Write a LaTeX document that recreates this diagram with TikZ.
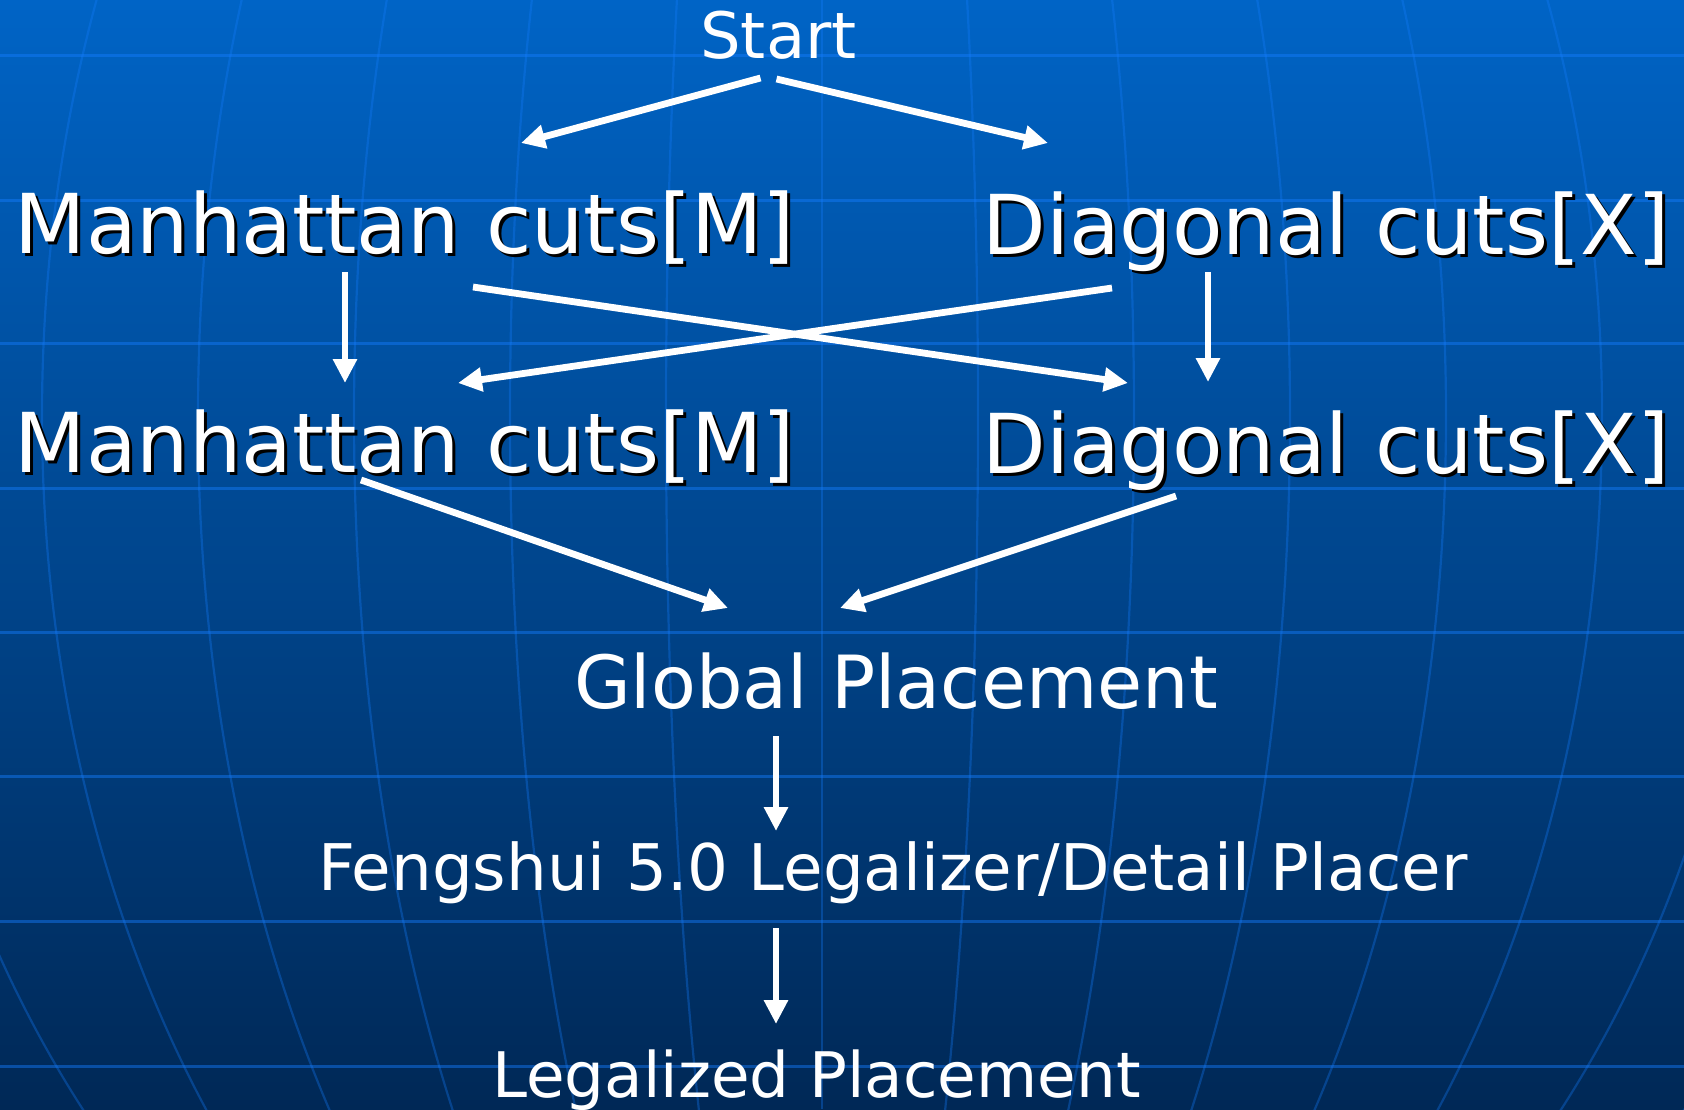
\documentclass[tikz,border=0pt]{standalone}
\usepackage{fontspec}
\setmainfont{DejaVu Sans}
\usetikzlibrary{arrows.meta,calc}
\definecolor{bgtop}{RGB}{0,100,198}
\definecolor{bgbot}{RGB}{0,40,86}
\definecolor{gridc}{RGB}{20,125,255}
\begin{document}
\begin{tikzpicture}[x=1pt,y=-1pt,
  lbl/.style={inner sep=0pt, outer sep=0pt, anchor=base, text=white},
  shd/.style={inner sep=0pt, outer sep=0pt, anchor=base, text=black},
  fbig/.style={font=\fontsize{82.6}{90}\selectfont},
  fmid/.style={font=\fontsize{73.3}{80}\selectfont},
  arr/.style={draw=white, line width=6.8pt, -{Triangle[length=24pt,width=23pt]}},
  hgrid/.style={draw=gridc, opacity=0.45, line width=3pt},
  mgrid/.style={draw=gridc, opacity=0.32, line width=2.2pt}]
\useasboundingbox (0,0) rectangle (1684,1109);
\shade[top color=bgtop, bottom color=bgbot] (0,0) rectangle (1684,1109);
\begin{scope}
  \clip (0,0) rectangle (1684,1109);
  \foreach \yy in {55,200,343,488,632,776,921,1066}
    \draw[hgrid] (0,\yy) -- (1684,\yy);
  \draw[mgrid] (822,0) -- (822,1109);
  \foreach \k in {1,...,7}
    \draw[mgrid] (822,416) ellipse [x radius={\k*156pt}, y radius=1130pt];
\end{scope}

% texts
\node[lbl, font=\fontsize{64}{70}\selectfont] (start) at (778.5,58) {Start};

\node[shd, fbig] (m1s) at (408,256) {Manhattan cuts[M]};
\node[lbl, fbig] (m1) at (405,253) {Manhattan cuts[M]};
\node[shd, fbig] (d1s) at (1329,257) {Diagonal cuts[X]};
\node[lbl, fbig] (d1) at (1326,254) {Diagonal cuts[X]};

\node[shd, fbig] (m2s) at (408,475) {Manhattan cuts[M]};
\node[lbl, fbig] (m2) at (405,472) {Manhattan cuts[M]};
\node[shd, fbig] (d2s) at (1329,476) {Diagonal cuts[X]};
\node[lbl, fbig] (d2) at (1326,473) {Diagonal cuts[X]};

\node[lbl, fmid] (gp) at (896,708) {Global Placement};
\node[lbl, font=\fontsize{64.3}{70}\selectfont] (fs) at (893,890) {Fengshui 5.0 Legalizer/Detail Placer};
\node[lbl, font=\fontsize{62.8}{70}\selectfont] (lp) at (816.5,1097) {Legalized Placement};

% connectors
\draw[arr] ($(start.base)+(-18,20)$) -- ($(m1.base)+(116,-110)$);
\draw[arr] ($(start.base)+(-2,21)$) -- ($(d1.base)+(-278,-111)$);
\draw[arr] ($(m1.base)+(-60,19)$) -- ($(m2.base)+(-60,-89)$);
\draw[arr] ($(d1.base)+(-118,18)$) -- ($(d2.base)+(-118,-91)$);
\draw[arr] ($(m1.base)+(68,34)$) -- ($(d2.base)+(-198,-90)$);
\draw[arr] ($(d1.base)+(-214,34)$) -- ($(m2.base)+(53,-89)$);
\draw[arr] ($(m2.base)+(-44,8)$) -- ($(gp.base)+(-168,-100)$);
\draw[arr] ($(d2.base)+(-150,23)$) -- ($(gp.base)+(-56,-100)$);
\draw[arr] ($(gp.base)+(-120,28)$) -- ($(fs.base)+(-117,-59)$);
\draw[arr] ($(fs.base)+(-117,38)$) -- ($(lp.base)+(-40.5,-73)$);
\end{tikzpicture}
\end{document}
